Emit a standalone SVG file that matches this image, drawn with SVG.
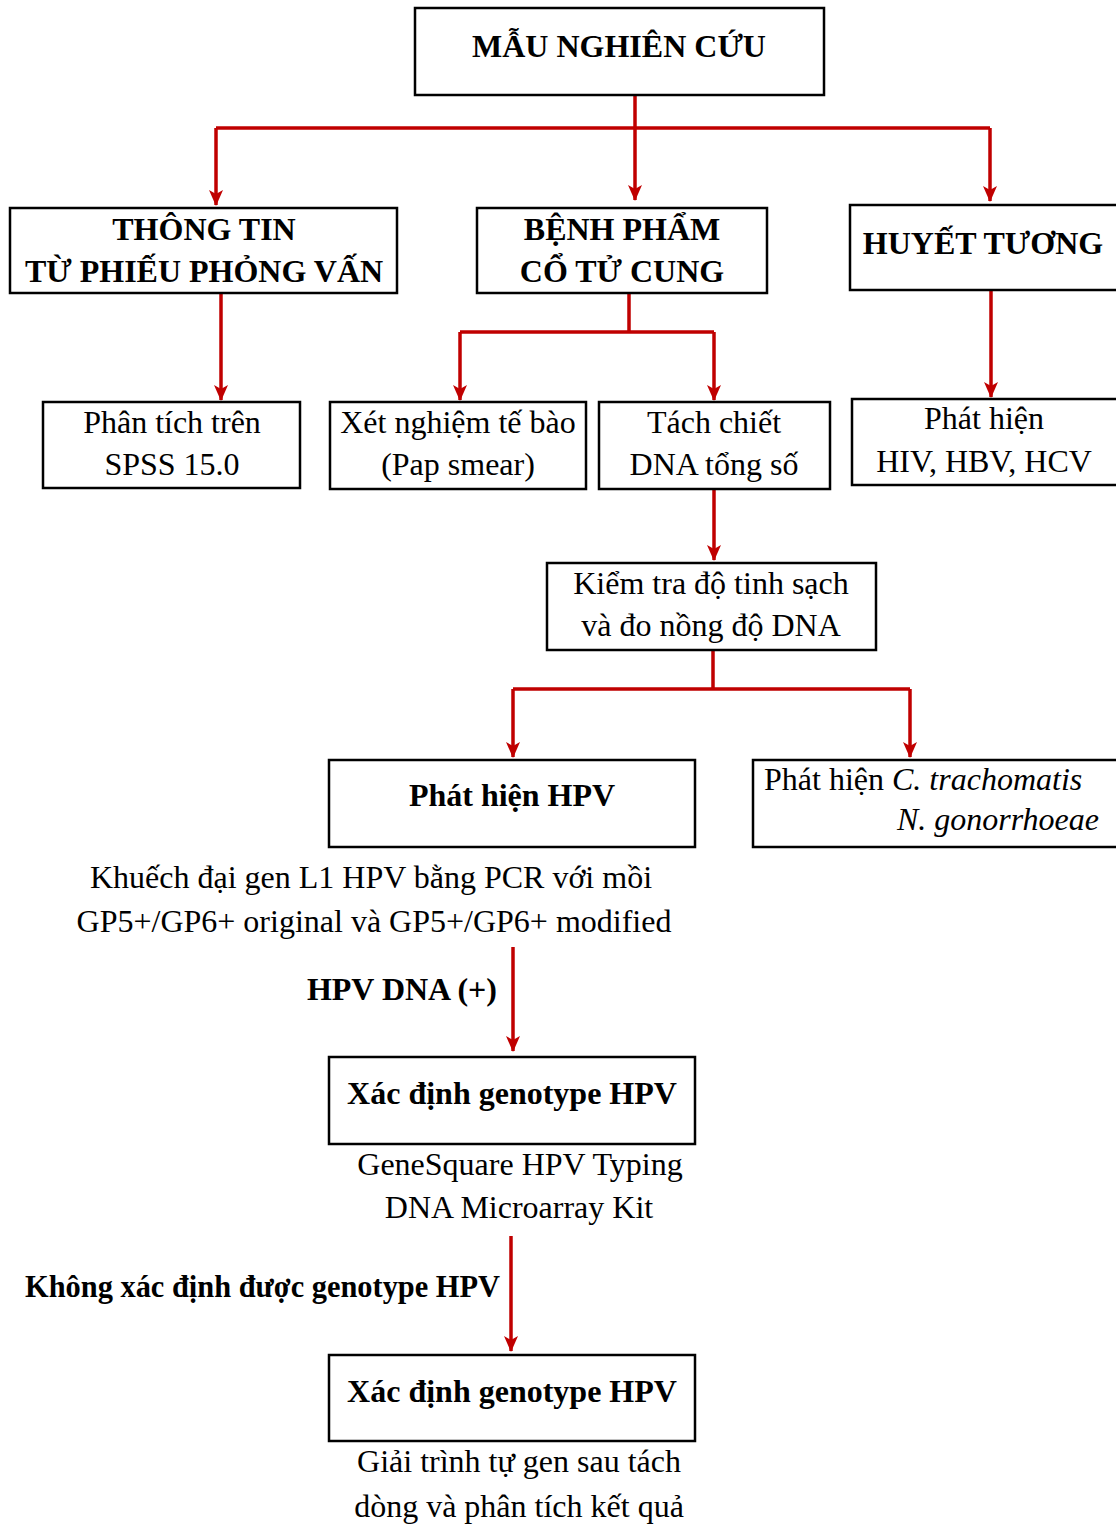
<svg xmlns="http://www.w3.org/2000/svg" width="1116" height="1526" viewBox="0 0 1116 1526">
<defs>
<marker id="ah" markerUnits="userSpaceOnUse" markerWidth="16" markerHeight="14" viewBox="0 0 16 14" refX="15" refY="7" orient="auto">
<path d="M0,0 L4,7 L0,14 L16,7 Z" fill="#C00000"/>
</marker>
<style>
.box{fill:#fff;stroke:#000;stroke-width:2.5}
.t{font-family:"Liberation Serif","Times New Roman",serif;font-size:32px;fill:#000;text-anchor:middle}
.b{font-weight:bold}
.c{fill:none;stroke:#C00000;stroke-width:3.5}
</style>
</defs>
<rect width="1116" height="1526" fill="#fff"/>
<g id="connectors">
<path class="c" d="M635,95 V128"/>
<path class="c" d="M216,128 H990"/>
<path class="c" d="M216,128 V205" marker-end="url(#ah)"/>
<path class="c" d="M635,128 V200" marker-end="url(#ah)"/>
<path class="c" d="M990,128 V201" marker-end="url(#ah)"/>
<path class="c" d="M221,293 V400" marker-end="url(#ah)"/>
<path class="c" d="M629,293 V332 M460,332 H714"/>
<path class="c" d="M460,332 V400" marker-end="url(#ah)"/>
<path class="c" d="M714,332 V400" marker-end="url(#ah)"/>
<path class="c" d="M991,290 V397" marker-end="url(#ah)"/>
<path class="c" d="M714,489 V560" marker-end="url(#ah)"/>
<path class="c" d="M713,650 V689 M513,689 H910"/>
<path class="c" d="M513,689 V757" marker-end="url(#ah)"/>
<path class="c" d="M910,689 V757" marker-end="url(#ah)"/>
<path class="c" d="M513,947 V1051" marker-end="url(#ah)"/>
<path class="c" d="M511,1236 V1351" marker-end="url(#ah)"/>
</g>
<g id="n-mau">
<rect class="box" x="415" y="8" width="409" height="87"/>
<text class="t b" x="619" y="57">MẪU NGHIÊN CỨU</text>
</g>
<g id="n-thongtin">
<rect class="box" x="10" y="208" width="387" height="85"/>
<text class="t b" x="204" y="240">THÔNG TIN</text>
<text class="t b" x="204" y="282">TỪ PHIẾU PHỎNG VẤN</text>
</g>
<g id="n-benhpham">
<rect class="box" x="477" y="208" width="290" height="85"/>
<text class="t b" x="622" y="240">BỆNH PHẨM</text>
<text class="t b" x="622" y="282">CỔ TỬ CUNG</text>
</g>
<g id="n-huyettuong">
<rect class="box" x="850" y="205" width="270" height="85"/>
<text class="t b" x="983" y="254">HUYẾT TƯƠNG</text>
</g>
<g id="n-spss">
<rect class="box" x="43" y="402" width="257" height="86"/>
<text class="t" x="172" y="433">Phân tích trên</text>
<text class="t" x="172" y="475">SPSS 15.0</text>
</g>
<g id="n-pap">
<rect class="box" x="330" y="402" width="256" height="87"/>
<text class="t" x="458" y="433">Xét nghiệm tế bào</text>
<text class="t" x="458" y="475">(Pap smear)</text>
</g>
<g id="n-tachchiet">
<rect class="box" x="599" y="402" width="231" height="87"/>
<text class="t" x="714" y="433">Tách chiết</text>
<text class="t" x="714" y="475">DNA tổng số</text>
</g>
<g id="n-hiv">
<rect class="box" x="852" y="399" width="268" height="86"/>
<text class="t" x="984" y="429">Phát hiện</text>
<text class="t" x="984" y="472">HIV, HBV, HCV</text>
</g>
<g id="n-kiemtra">
<rect class="box" x="547" y="563" width="329" height="87"/>
<text class="t" x="711" y="594">Kiểm tra độ tinh sạch</text>
<text class="t" x="711" y="636">và đo nồng độ DNA</text>
</g>
<g id="n-hpv">
<rect class="box" x="329" y="760" width="366" height="87"/>
<text class="t b" x="512" y="806">Phát hiện HPV</text>
</g>
<g id="n-ct">
<rect class="box" x="753" y="760" width="367" height="87"/>
<text class="t" x="764" y="790" style="text-anchor:start">Phát hiện <tspan font-style="italic">C. trachomatis</tspan></text>
<text class="t" x="1099" y="830" style="text-anchor:end;font-style:italic">N. gonorrhoeae</text>
</g>
<g id="n-pcr">
<text class="t" x="371" y="888">Khuếch đại gen L1 HPV bằng PCR với mồi</text>
<text class="t" x="374" y="932">GP5+/GP6+ original và GP5+/GP6+ modified</text>
</g>
<g id="l-hpvdna">
<text class="t b" x="497" y="1000" style="text-anchor:end">HPV DNA (+)</text>
</g>
<g id="n-geno1">
<rect class="box" x="329" y="1057" width="366" height="87"/>
<text class="t b" x="512" y="1104">Xác định genotype HPV</text>
</g>
<g id="n-genesquare">
<text class="t" x="520" y="1175">GeneSquare HPV Typing</text>
<text class="t" x="519" y="1218">DNA Microarray Kit</text>
</g>
<g id="l-khong">
<text class="t b" x="25" y="1297" style="text-anchor:start" textLength="475" lengthAdjust="spacingAndGlyphs">Không xác định được genotype HPV</text>
</g>
<g id="n-geno2">
<rect class="box" x="329" y="1355" width="366" height="86"/>
<text class="t b" x="512" y="1402">Xác định genotype HPV</text>
</g>
<g id="n-giaitrinh">
<text class="t" x="519" y="1472">Giải trình tự gen sau tách</text>
<text class="t" x="519" y="1517">dòng và phân tích kết quả</text>
</g>
</svg>
